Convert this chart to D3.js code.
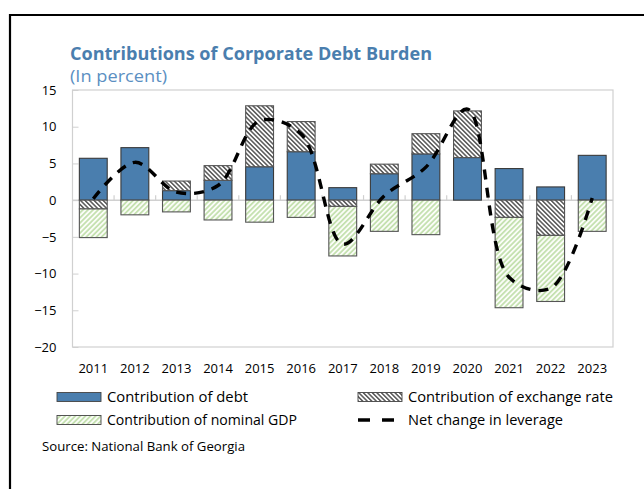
<!DOCTYPE html>
<html><head><meta charset="utf-8">
<script src="https://cdn.jsdelivr.net/npm/d3@7"></script>
<style>
html,body{margin:0;padding:0;background:#fff;}
svg{display:block;font-family:"Open Sans","Noto Sans",sans-serif;}
</style></head>
<body>
<svg id="chart" width="644" height="489"></svg>
<script>
// ---- data ----
const years = ["2011","2012","2013","2014","2015","2016","2017","2018","2019","2020","2021","2022","2023"];
const debt     = [5.7, 7.15, 1.3, 2.7, 4.55, 6.6, 1.7, 3.6, 6.3, 5.8, 4.3, 1.8, 6.1];
const exchange = [-1.2, 0, 1.3, 2.0, 8.3, 4.1, -0.85, 1.3, 2.75, 6.35, -2.35, -4.8, 0];
const gdp      = [-3.9, -2.0, -1.6, -2.7, -3.0, -2.35, -6.75, -4.25, -4.7, 0, -12.3, -9.0, -4.25];
const net      = [0.2, 5.15, 1.1, 2.0, 10.8, 9.0, -6.0, 0.6, 4.5, 12.4, -10.5, -12.0, 0.3];
const yTicks   = [15, 10, 5, 0, -5, -10, -15, -20];
const seriesNames = ["Contribution of debt","Contribution of exchange rate","Contribution of nominal GDP","Net change in leverage"];

// ---- layout ----
const svg = d3.select("#chart");
const X0 = 72.5, X1 = 613, Y0 = 90, Y1 = 347;
const blue = "#4a7eae";

const defs = svg.append("defs");
const pe = defs.append("pattern").attr("id","hatchEx").attr("patternUnits","userSpaceOnUse")
  .attr("width",3.2).attr("height",10).attr("patternTransform","rotate(-45)");
pe.append("rect").attr("width",3.2).attr("height",10).attr("fill","#fff");
pe.append("line").attr("x1",1.6).attr("x2",1.6).attr("y1",0).attr("y2",10).attr("stroke","#000").attr("stroke-width",1);
const pg = defs.append("pattern").attr("id","hatchGdp").attr("patternUnits","userSpaceOnUse")
  .attr("width",3.6).attr("height",10).attr("patternTransform","rotate(45)");
pg.append("rect").attr("width",3.6).attr("height",10).attr("fill","#fbfdf8");
pg.append("line").attr("x1",1.8).attr("x2",1.8).attr("y1",0).attr("y2",10).attr("stroke","#a3d083").attr("stroke-width",1.1);

// frame
svg.append("path").attr("d","M10,489V15H644").attr("fill","none").attr("stroke","#000").attr("stroke-width",2.2);

// title
svg.append("text").attr("x",70).attr("y",60).attr("fill","#4a7eae").attr("font-weight","bold").attr("font-size",17)
  .attr("textLength",362).attr("lengthAdjust","spacingAndGlyphs")
  .text("Contributions of Corporate Debt Burden");
svg.append("text").attr("x",70).attr("y",82).attr("fill","#5b8fc2").attr("font-size",16)
  .attr("textLength",97).attr("lengthAdjust","spacingAndGlyphs").text("(In percent)");

const x = d3.scaleBand().domain(years).range([X0, X1]).paddingInner(0.33).paddingOuter(0.165);
const y = d3.scaleLinear().domain([-20, 15]).range([Y1, Y0]);

// plot border
svg.append("rect").attr("x",X0).attr("y",Y0).attr("width",X1-X0).attr("height",Y1-Y0)
  .attr("fill","none").attr("stroke","#d0d0d0").attr("stroke-width",1.2);

// y axis
const ya = svg.append("g").attr("transform",`translate(${X0},0)`)
  .call(d3.axisLeft(y).tickValues(yTicks).tickSizeInner(-6).tickSizeOuter(0).tickPadding(16).tickFormat(d3.format("d")));
ya.select(".domain").remove();
ya.selectAll("line").attr("stroke","#d0d0d0");
ya.selectAll("text").attr("font-size",13).attr("fill","#000").attr("font-family","'Open Sans',sans-serif");

// zero line
svg.append("line").attr("x1",X0).attr("x2",X1).attr("y1",y(0)).attr("y2",y(0)).attr("stroke","#d0d0d0").attr("stroke-width",1.5);
// category ticks at zero line
const step = x.step();
svg.append("g").selectAll("line").data(years.slice(1)).join("line")
  .attr("x1",d=>x(d)-step*x.paddingInner()/2).attr("x2",d=>x(d)-step*x.paddingInner()/2)
  .attr("y1",y(0)).attr("y2",y(0)-5).attr("stroke","#d0d0d0").attr("stroke-width",1.2);

// x labels
const xa = svg.append("g").attr("transform",`translate(0,${Y1})`)
  .call(d3.axisBottom(x).tickSize(0).tickPadding(17));
xa.select(".domain").remove();
xa.selectAll("text").attr("font-size",13).attr("fill","#000").attr("font-family","'Open Sans',sans-serif");

// stacked bars
const rows = years.map((yr,i)=>({year:yr, debt:debt[i], exchange:exchange[i], gdp:gdp[i]}));
const stack = d3.stack().keys(["debt","exchange","gdp"]).offset(d3.stackOffsetDiverging)(rows);
const fills = {debt: blue, exchange: "url(#hatchEx)", gdp: "url(#hatchGdp)"};
const strokes = {debt: "#3a3a3a", exchange: "#555", gdp: "#555"};
stack.forEach(s=>{
  svg.append("g").selectAll("rect").data(s.filter(d=>Math.abs(d[1]-d[0])>0.001)).join("rect")
    .attr("x",d=>x(d.data.year)).attr("width",x.bandwidth())
    .attr("y",d=>y(Math.max(d[0],d[1]))).attr("height",d=>Math.abs(y(d[0])-y(d[1])))
    .attr("fill",fills[s.key]).attr("stroke",strokes[s.key]).attr("stroke-width",1.1);
});

// net line
const line = d3.line().x((d,i)=>x(years[i])+x.bandwidth()/2).y(d=>y(d)).curve(d3.curveCatmullRom.alpha(0.5));
svg.append("path").attr("d",line(net)).attr("fill","none").attr("stroke","#000")
  .attr("stroke-width",3.4).attr("stroke-dasharray","10,8");

// legend
const lg = svg.append("g").attr("font-size",14.5).attr("fill","#000");
function sw(xp, yp, fill){ lg.append("rect").attr("x",xp).attr("y",yp-4.5).attr("width",44).attr("height",9).attr("fill",fill).attr("stroke","#444").attr("stroke-width",0.9); }
function lbl(xp, yp, t, w){ lg.append("text").attr("x",xp).attr("y",yp).attr("dy","0.35em").attr("textLength",w).attr("lengthAdjust","spacingAndGlyphs").text(t); }
sw(57,397,blue); lbl(107,397,seriesNames[0],141);
sw(358,397,"url(#hatchEx)"); lbl(408,397,seriesNames[1],205);
sw(57,420,"url(#hatchGdp)"); lbl(107,420,seriesNames[2],190);
lg.append("line").attr("x1",358).attr("x2",395).attr("y1",420).attr("y2",420).attr("stroke","#000").attr("stroke-width",3.4).attr("stroke-dasharray","12,12");
lbl(408,420,seriesNames[3],155);

svg.append("text").attr("x",42).attr("y",446).attr("dy","0.35em").attr("font-size",13)
  .attr("textLength",203).attr("lengthAdjust","spacingAndGlyphs")
  .attr("font-family","'Open Sans',sans-serif").text("Source: National Bank of Georgia");
</script>
</body></html>
